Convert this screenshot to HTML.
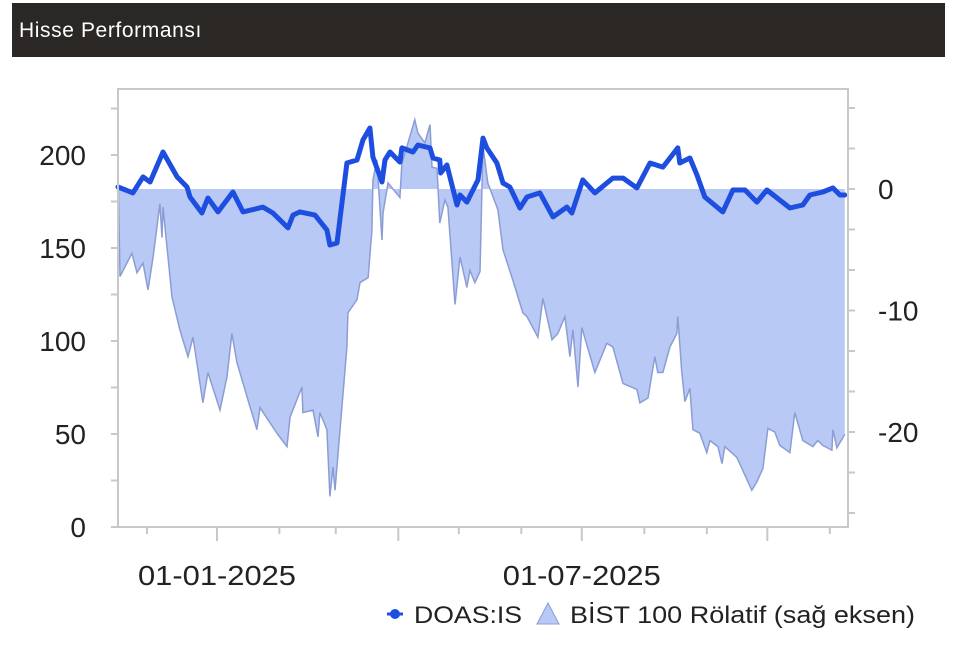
<!DOCTYPE html>
<html><head><meta charset="utf-8"><style>
body{margin:0;background:#fff;width:960px;height:651px;overflow:hidden;font-family:"Liberation Sans",sans-serif}
#hdr{position:absolute;left:12px;top:3px;width:933px;height:54px;background:#2a2724;color:#fff;font-size:21px;letter-spacing:0.6px;line-height:56px;padding-left:7px;box-sizing:border-box}
svg{position:absolute;left:0;top:0}
</style></head><body>
<div id="hdr">Hisse Performansı</div>
<svg id="c" width="960" height="651"></svg>
<script>
const doasDays=[0,7.4,12.4,15.9,22.3,29.3,34.2,35.7,41.6,44.6,49.6,57,62,71.9,76.8,84.3,86.8,90.2,97.7,103.6,105.1,108.6,113.5,118.5,121.5,124.9,126.4,130.9,132.4,134.9,139.8,140.8,146.3,148.7,154.7,156.2,159.6,160,163.1,168.1,169.6,173,178.5,181,182.9,187.9,190.9,194.3,199.3,202.8,209.2,215.7,222.6,225.1,230.5,236.5,242.4,245.4,250.4,257.3,263.8,270.2,277.6,278.6,283.6,287.1,291,299.9,304.9,310.9,316.8,321.8,333.2,339.6,343.1,349.5,354.5,358,360.4];
const doasValues=[182.8,179.6,188.2,185.5,201.6,188.2,182.8,177.4,168.8,176.9,169.4,180.1,169.4,172,168.8,160.8,167.7,169.4,167.7,159.7,151.6,152.7,195.7,197.3,208.1,214.5,198.9,185.5,197.3,201.6,196.2,203.8,201.6,205.4,203.8,198.4,197.3,190.3,194.6,173.1,178.5,174.7,186.6,209.1,203.8,195.7,184.9,182.8,171.5,177.4,179.6,166.7,172,168.8,186.6,179.6,184.9,187.6,187.6,182.3,195.7,193.5,203.8,195.7,198.4,189.2,177.4,169.4,181.2,181.2,174.7,181.2,171.5,173.1,178.5,180.1,182.3,178.5,178.5];
const relDays=[0,1,6.9,9.4,12.4,14.9,17.4,20.8,21.8,22.3,26.8,30.7,34.7,37.2,42.1,44.6,50.6,54,56.5,59,64.5,68.9,70.4,78.8,83.8,85.3,91.2,91.7,96.7,99.2,100.1,103.6,105.1,106.6,107.6,113.5,114,118.5,120,124,125.9,126.4,128.4,130.9,131.4,133.9,139.8,140.8,147.2,148.7,152.2,154.7,155.7,158.2,159.6,162.1,163.6,167.1,169.6,173,174.5,177,179.5,180.5,181,183.4,188.4,190.9,195.8,200.8,202.8,208.2,210.7,215.2,218.1,221.6,224.1,225.6,228.1,230,236.5,242.4,245.4,250.4,257.3,258.8,262.8,266.2,267.7,270.2,273.7,277.1,277.6,279.6,281.1,283.6,285.1,288.5,292,293.5,297.5,299.5,300.9,306.9,309.4,314.3,316.8,319.8,322.3,325.7,328.2,333.2,335.6,339.6,344.6,347,349.5,354,354.5,356.5,360.4];
const relValues=[1.8,-7.2,-5.3,-6.9,-6.1,-8.3,-5.6,-1.2,-4,-1.5,-8.9,-11.6,-13.8,-12.2,-17.6,-15.1,-18.2,-15.5,-11.9,-14.3,-17.4,-19.8,-18,-20.1,-21.2,-18.8,-16.3,-18.4,-18.2,-20.4,-18.4,-19.8,-25.3,-22.9,-24.8,-13,-10.2,-9.1,-7.7,-7.3,-3.4,0.7,2.4,-4.2,-2,0.5,-0.7,2.1,5.7,4.6,3.8,5.3,1.8,1.7,-2.8,-0.9,-1.5,-9.5,-5.6,-8.1,-6.7,-7.7,-6.8,0.2,3.5,0.5,-1.7,-5,-7.5,-10.2,-10.5,-12.2,-9,-12.4,-11.9,-10.5,-13.8,-11.6,-16.3,-11.4,-15.1,-12.7,-13,-16,-16.5,-17.6,-17.2,-13.8,-15.1,-15.1,-13,-11.9,-10.5,-15.1,-17.5,-16.4,-19.8,-20.1,-21.7,-20.7,-21.2,-22.6,-21.2,-22.1,-23,-24.8,-24.1,-23,-19.7,-20,-21.1,-21.7,-18.4,-20.7,-21.2,-20.7,-21.1,-21.5,-19.8,-21.3,-20.2];
const leftTicks=[0,50,100,150,200];
const rightTicks=[0,-10,-20];
const xLabelDays=[49.1,230];
const xLabels=["01-01-2025","01-07-2025"];
const monthTickDays=[14.4,49.1,80,108,139,169,200,230,261,292,322,353];

const L=118,R=848,T=89,B=527;
const xS=d=>L+d*(R-L)/362;
const yL=v=>527-v*1.86;
const yR=v=>189-v*12.15;
const svg=document.getElementById('c');
const NS='http://www.w3.org/2000/svg';
function mk(tag,at,parent){const e=document.createElementNS(NS,tag);for(const k in at)e.setAttribute(k,at[k]);(parent||svg).appendChild(e);return e;}

let d='M'+xS(relDays[0])+','+yR(0);
relDays.forEach((t,i)=>{d+=' L'+xS(t).toFixed(1)+','+yR(relValues[i]).toFixed(1);});
d+=' L'+xS(relDays[relDays.length-1])+','+yR(0)+' Z';
const area=mk('path',{d:d,fill:'#b9c9f6',stroke:'none'});


let ld='';relDays.forEach((t,i)=>{ld+=(i?' L':'M')+xS(t).toFixed(1)+','+yR(relValues[i]).toFixed(1);});
const rl=mk('path',{d:ld,fill:'none',stroke:'#8b9dd4','stroke-width':1.5});



let dd='';doasDays.forEach((t,i)=>{dd+=(i?' L':'M')+xS(t).toFixed(1)+','+yL(doasValues[i]).toFixed(1);});
const dl=mk('path',{d:dd,fill:'none',stroke:'#1d4ee0','stroke-width':5,'stroke-linejoin':'round','stroke-linecap':'round'});



const fr=mk('path',{d:`M${L},${T} H${R} V${B} H${L} Z`,fill:'none',stroke:'#c8c8c8','stroke-width':2});



for(let v=0;v<=225;v+=25){const y=yL(v);const t=mk('line',{x1:L-7,x2:L,y1:y,y2:y,stroke:'#c8c8c8','stroke-width':2});

}
leftTicks.forEach(v=>{const t=mk('text',{x:86,y:yL(v)+10,'text-anchor':'end','font-size':28,fill:'#222'});t.textContent=v;

});
for(let k=-10;k<=2;k++){const y=yR(k*10/3);if(y<T-2||y>B+2)continue;const t=mk('line',{x1:R,x2:R+7,y1:y,y2:y,stroke:'#c8c8c8','stroke-width':2});

}
rightTicks.forEach(v=>{const t=mk('text',{x:878,y:yR(v)+10,'font-size':28,fill:'#222'});t.textContent=v;

});
monthTickDays.forEach((m,i)=>{const x=xS(m);const major=(i%3==1);const t=mk('line',{x1:x,x2:x,y1:B,y2:B+(major?14:7),stroke:'#c8c8c8','stroke-width':2});

});
xLabelDays.forEach((m,i)=>{const t=mk('text',{x:xS(m),y:585,'text-anchor':'middle','font-size':28,textLength:158,lengthAdjust:'spacingAndGlyphs',fill:'#222'});t.textContent=xLabels[i];

});

const g=mk('g',{});


mk('line',{x1:387,x2:403,y1:614,y2:614,stroke:'#1d4ee0','stroke-width':3},g);
mk('circle',{cx:395,cy:614,r:5,fill:'#1d4ee0'},g);
const t1=mk('text',{x:414,y:623,'font-size':24,textLength:108,lengthAdjust:'spacingAndGlyphs',fill:'#222'},g);t1.textContent='DOAS:IS';


mk('polygon',{points:'537,624 548,603 559,624',fill:'#b9c9f6',stroke:'#8b9dd4','stroke-width':1},g);
const t2=mk('text',{x:570,y:623,'font-size':24,textLength:345,lengthAdjust:'spacingAndGlyphs',fill:'#222'},g);t2.textContent='BİST 100 Rölatif (sağ eksen)';


</script>
</body></html>
